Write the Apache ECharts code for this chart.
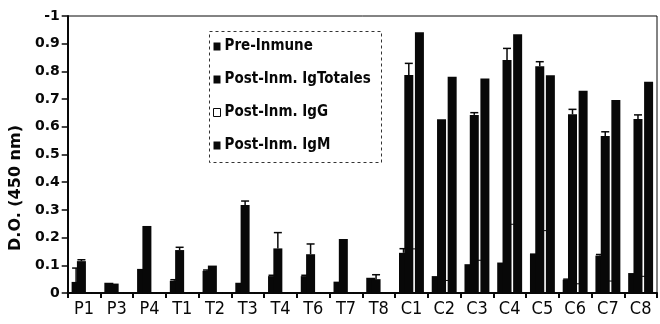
<!DOCTYPE html>
<html>
<head>
<meta charset="utf-8">
<script src="https://cdn.jsdelivr.net/npm/echarts@6/dist/echarts.min.js"></script>
<style>html,body{margin:0;padding:0;background:#fff}#c{width:660px;height:324px}</style>
</head>
<body>
<div id="c"></div>
<script>
const categories = ['P1','P3','P4','T1','T2','T3','T4','T6','T7','T8','C1','C2','C3','C4','C5','C6','C7','C8'];
const preInmune = [0.040,0.037,0.087,0.044,0.080,0.037,0.061,0.061,0.041,0.055,0.145,0.061,0.104,0.110,0.143,0.048,0.135,0.072];
const preErr    = [0.050,0,0,0.004,0.003,0,0.003,0.003,0,0,0.015,0,0,0,0,0.002,0.004,0];
const igTotales = [0.115,0.034,0.242,0.155,0.099,0.318,0.161,0.140,0.195,0.050,0.787,0.627,0.643,0.841,0.819,0.645,0.567,0.628];
const igTotErr  = [0.005,0,0,0.010,0,0.014,0.057,0.037,0,0.016,0.042,0,0.008,0.042,0.016,0.018,0.015,0.015];
const igG       = [0,0,0,0,0,0,0,0,0,0,0.161,0.047,0.120,0.250,0.227,0.035,0.045,0.062];
const igM       = [0,0,0,0,0,0,0,0,0,0,0.941,0.781,0.774,0.934,0.786,0.730,0.697,0.763];
const yTicks = [0,0.1,0.2,0.3,0.4,0.5,0.6,0.7,0.8,0.9,1];
const yTickLabels = ['0','0.1','0.2','0.3','0.4','0.5','0.6','0.7','0.8','0.9','-1'];
const seriesNames = ['Pre-Inmune','Post-Inm. IgTotales','Post-Inm. IgG','Post-Inm. IgM'];

const INK = '#080808';
const BAR_W = 9;
const BAR_GAP = -0.41;
const chart = echarts.init(document.getElementById('c'), null, {renderer:'canvas'});

function errSeries(vals, errs, k){
  return {
    type:'custom', silent:true, z:5,
    data: vals.map((v,i)=>[i, v, errs[i]]),
    encode:{x:0, y:1},
    renderItem:function(params, api){
      const idx = api.value(0), v = api.value(1), e = api.value(2);
      if(!e) return null;
      const step = BAR_W*(1+BAR_GAP);
      const base = api.coord([idx, v]);
      const top = api.coord([idx, v+e]);
      const x = base[0] + (k-1.5)*step;
      return {type:'group', children:[
        {type:'line', shape:{x1:x,y1:base[1],x2:x,y2:top[1]}, style:{stroke:INK,lineWidth:1.5}},
        {type:'line', shape:{x1:x-4,y1:top[1],x2:x+4,y2:top[1]}, style:{stroke:INK,lineWidth:1.5}}
      ]};
    }
  };
}

const barBase = {type:'bar', barWidth:BAR_W, barGap:(BAR_GAP*100)+'%'};

chart.setOption({
  animation:false,
  grid:{left:61, right:3, top:16, bottom:31, show:true, borderColor:INK, borderWidth:1},
  legend:{
    orient:'vertical', left:213, top:39, padding:0, itemGap:18,
    itemWidth:7, itemHeight:8, icon:'rect',
    textStyle:{fontFamily:'DejaVu Sans Condensed, Liberation Sans', fontWeight:'bold', fontSize:15, color:INK, padding:[0,0,0,-1]},
    data:[
      {name:seriesNames[0]},
      {name:seriesNames[1]},
      {name:seriesNames[2], itemStyle:{color:'#fff', borderColor:INK, borderWidth:1}},
      {name:seriesNames[3]}
    ]
  },
  graphic:[{type:'rect', left:207, top:29, shape:{width:172, height:131}, style:{fill:null, stroke:'#333', lineWidth:1, lineDash:[3,3]}, z:100}],
  xAxis:{
    type:'category', data:categories,
    axisLine:{lineStyle:{color:INK, width:2}},
    axisTick:{show:true, length:5, lineStyle:{color:INK, width:2}},
    axisLabel:{fontFamily:'DejaVu Sans Condensed, Liberation Sans', fontSize:18, color:INK, margin:7}
  },
  yAxis:{
    type:'value', min:0, max:1, interval:0.1,
    name:'D.O. (450 nm)', nameLocation:'middle', nameGap:40, nameRotate:90,
    nameTextStyle:{fontFamily:'DejaVu Sans', fontWeight:'bold', fontSize:16, color:INK, padding:[0,67,0,0]},
    splitLine:{show:false},
    axisLine:{show:true, lineStyle:{color:INK, width:2}},
    axisTick:{show:true, length:6, lineStyle:{color:INK, width:1.5}},
    axisLabel:{fontFamily:'DejaVu Sans', fontWeight:'bold', fontSize:14, color:INK, margin:8,
      formatter:function(v){ const i = yTicks.findIndex(t=>Math.abs(t-v)<1e-6); return i>=0 ? yTickLabels[i] : ''; }}
  },
  series:[
    Object.assign({}, barBase, {name:seriesNames[0], data:preInmune, itemStyle:{color:INK}, z:3}),
    Object.assign({}, barBase, {name:seriesNames[1], data:igTotales, itemStyle:{color:INK}, z:3}),
    Object.assign({}, barBase, {name:seriesNames[2], data:igG, itemStyle:{color:'#fff', borderColor:INK, borderWidth:1}, z:1}),
    Object.assign({}, barBase, {name:seriesNames[3], data:igM, itemStyle:{color:INK}, z:3}),
    errSeries(preInmune, preErr, 0),
    errSeries(igTotales, igTotErr, 1)
  ]
});
</script>
</body>
</html>
